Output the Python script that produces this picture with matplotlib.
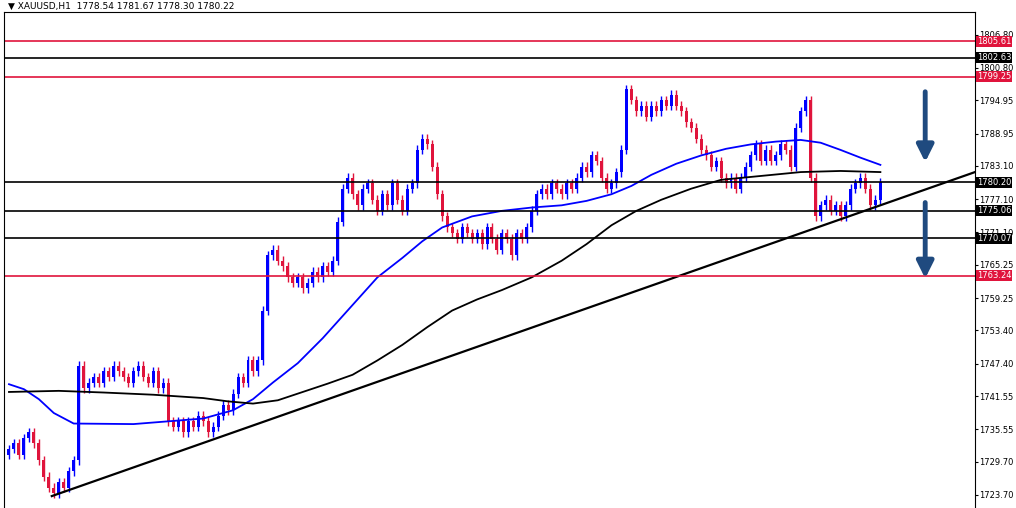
import matplotlib
matplotlib.use("Agg")
import matplotlib.pyplot as plt
import numpy as np

closes = [1732,1733,1731,1734,1735,1733,
1730,1727,1725,1724,
1726,1725,1728,1730,
1747,
1743,1744,1745,1744,1746,1745,1747,1746,1745,1744,1746,1747,1745,1744,1746,1743,
1744,1737,
1736,1737,1735,1737,1736,1738,1737,1735,1736,
1738,1740,1739,1742,1745,1744,1748,1746,
1748,1757,1767,
1768,1766,1765,1763,1762,1763,1761,
1762,1764,1763,1765,1764,1766,
1773,1779,1781,1778,
1776,1779,1780,1777,1775,1778,1776,1780,1777,1775,1779,1780,
1786,1788,1787,1783,1778,1774,
1772,1771,1770,1772,1771,1770,1771,1769,1772,1770,1768,1771,1770,1767,1771,1770,
1772,1775,1778,1779,
1778,1780,1779,1778,1780,1779,1781,
1783,1782,1785,1784,1781,1779,1780,1782,
1786,1797,
1795,1793,1794,1792,1794,1793,1795,1794,
1796,1794,1793,1791,1790,1788,1786,
1785,1783,1784,1781,1780,1781,1779,1781,
1783,1785,1787,1784,1786,1784,1785,1787,1786,1783,
1790,1793,1795,1781,1774,
1776,1777,1775,1776,1774,1776,
1779,1780,1781,1779,1776,1777,1780.2]
first_open = 1731

# moving averages (index, price) key points
blue_x = [0,3,6,9,13,25,39,45,49,53,58,63,68,74,79,83,87,93,99,105,111,116,121,125,129,134,139,144,149,154,159,163,167,171,175]
blue_y = [1743.7,1742.8,1741,1738.5,1736.6,1736.5,1737.5,1739,1741,1744,1747.5,1752,1757,1763,1766.5,1769.5,1772,1774,1775,1775.6,1776,1776.8,1778,1779.5,1781.5,1783.5,1785,1786.2,1787,1787.5,1787.8,1787.3,1786,1784.6,1783.3]
black_x = [0,10,19,29,39,44,49,54,59,64,69,74,79,84,89,94,99,105,111,116,121,126,131,137,143,151,159,167,175]
black_y = [1742.3,1742.5,1742.2,1741.8,1741.2,1740.6,1740.2,1740.8,1742.3,1743.8,1745.4,1748,1750.8,1754,1757,1759,1760.7,1763,1766,1769,1772.4,1775,1777,1779,1780.6,1781.3,1782,1782.2,1782]

trend_x = [8.6, 194]
trend_y = [1723.5, 1782]

levels = [1805.61,1802.63,1799.25,1780.20,1775.06,1770.07,1763.24]
level_colors = ['#e0143c','black','#e0143c','black','black','black','#e0143c']
ticks = [1806.80,1800.80,1794.95,1788.95,1783.10,1777.10,1771.10,1765.25,1759.25,
         1753.40,1747.40,1741.55,1735.55,1729.70,1723.70]

fig = plt.figure(figsize=(10.16,5.08), dpi=100)
ax = fig.add_axes([4/1016, 0.0, 971/1016, 496/508])
opens = [first_open] + closes[:-1]
for i,(o,c) in enumerate(zip(opens,closes)):
    col = '#0000ff' if c >= o else '#e0143c'
    hi = max(o,c)+0.8; lo = min(o,c)-0.8
    ax.vlines(i, lo, hi, color=col, lw=1)
    ax.bar(i, max(abs(c-o),0.3), bottom=min(o,c), width=0.6, color=col, lw=0)
ax.plot(blue_x, blue_y, color='#0000ff', lw=1.3)
ax.plot(black_x, black_y, color='black', lw=1.3)
ax.plot(trend_x, trend_y, color='black', lw=1.6)
for lv,lc in zip(levels, level_colors):
    ax.axhline(lv, color=lc, lw=1.2)
for y0,y1 in [(1797,1783.3),(1777,1762.3)]:
    ax.annotate('', xy=(184, y1), xytext=(184, y0),
                arrowprops=dict(arrowstyle='-|>,head_width=0.5,head_length=1.0', color='#1f4a7f', lw=3.5))
ax.set_xlim(-1, 194)
ax.set_ylim(1721.35, 1810.9)
ax.set_xticks([])
ax.yaxis.tick_right()
ax.set_yticks(ticks)
ax.set_yticklabels([f"{t:.2f}" for t in ticks], fontsize=6)
ax.tick_params(axis='y', length=2, pad=1)
for lv,lc in zip(levels, level_colors):
    ax.text(1.002, lv, f"{lv:.2f}", transform=ax.get_yaxis_transform(), fontsize=6,
            color='white', va='center', ha='left',
            bbox=dict(boxstyle='square,pad=0.12', fc=lc, ec='none'))
ax.spines['bottom'].set_visible(False)
fig.text(8/1016, 1-6/508, "▼ XAUUSD,H1  1778.54 1781.67 1778.30 1780.22", fontsize=6.5, va='center', ha='left')
fig.savefig("out.png", dpi=100)
